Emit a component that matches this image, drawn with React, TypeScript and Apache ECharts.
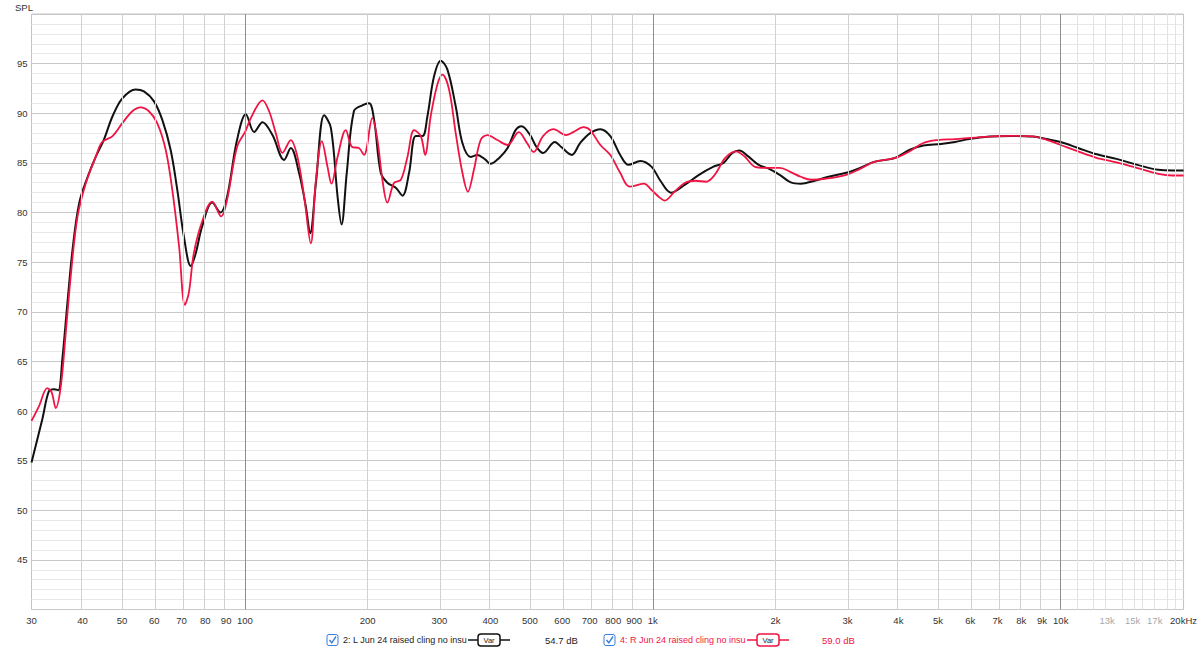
import React, { useEffect, useRef } from "react";
import * as echarts from "echarts";

// ---- data ----
const blackFreq = [30, 31.9, 33.1, 34.1, 34.9, 35.7, 36.8, 37.9, 39.3, 41.2, 43.1, 45.1, 47.4, 50.1, 54.0, 56.6, 59.9, 62.8, 65.8, 68.3, 70.9, 73.7, 75.7, 78.6, 83.2, 87.2, 90.5, 95.7, 100.6, 105.4, 110.5, 116.9, 124.8, 129.6, 135.8, 141.1, 144.6, 149.4, 156.5, 162.6, 168.8, 172.6, 177.8, 185.1, 194.1, 201.7, 207.5, 215.4, 223.6, 234.4, 243.5, 252.7, 262.4, 272.6, 280.3, 290.9, 302.2, 313.8, 328.8, 341.5, 357.7, 371.4, 389.3, 400, 420.3, 440.7, 461, 476.8, 500.6, 518.8, 538.3, 575.6, 596.6, 633, 663.6, 702.3, 744, 787, 832, 872, 933, 994, 1044, 1108, 1200, 1298, 1405, 1491, 1567, 1630, 1714, 1818, 1929, 2047, 2173, 2306, 2494, 2697, 2979, 3223, 3489, 3930, 4254, 4605, 5087, 5507, 5960, 6715, 7567, 8526, 9232, 9995, 11031, 12175, 13700, 15420, 17350, 18800, 20000];
const blackSPL = [54.8, 59.2, 62.0, 62.2, 62.1, 65.2, 71.2, 76.6, 81.0, 83.6, 85.6, 87.3, 89.7, 91.5, 92.4, 92.2, 91.2, 89.3, 86.3, 82.3, 77.6, 74.6, 75.8, 78.6, 81.0, 80.0, 81.6, 87.3, 89.9, 88.1, 89.1, 87.8, 85.3, 86.5, 84.0, 80.6, 77.9, 83.0, 89.8, 88.5, 81.6, 78.8, 84.0, 90.2, 90.8, 91.0, 89.3, 84.0, 83.0, 82.5, 81.7, 84.0, 87.7, 87.7, 89.7, 93.7, 95.3, 94.4, 90.7, 87.0, 85.6, 85.8, 85.3, 84.9, 85.5, 86.5, 88.3, 88.7, 87.8, 86.6, 86.0, 87.1, 86.6, 85.8, 87.0, 88.0, 88.4, 87.7, 85.8, 84.8, 85.2, 84.6, 83.2, 82.0, 82.8, 83.8, 84.6, 85.0, 86.0, 86.25, 85.65, 84.8, 84.4, 83.8, 83.06, 82.9, 83.2, 83.6, 84.0, 84.5, 85.1, 85.5, 86.3, 86.75, 86.9, 87.1, 87.4, 87.65, 87.72, 87.65, 87.4, 87.1, 86.5, 85.9, 85.4, 84.8, 84.3, 84.24, 84.24];

const redFreq = [30, 31.3, 32.8, 33.6, 34.4, 35.4, 36.4, 37.5, 38.9, 40.8, 43.1, 44.7, 47.4, 50.1, 53.0, 55.5, 58.2, 61.0, 64.0, 66.4, 69.0, 71.3, 72.9, 75.0, 78.6, 83.2, 87.5, 90.5, 95.7, 100.4, 103.4, 110.5, 114.7, 119.1, 123.7, 129.6, 134.6, 139.8, 145.1, 149.4, 154.5, 159.5, 163.1, 168.8, 176.8, 183.3, 190.4, 195.9, 205.4, 211.4, 217.4, 223.6, 232.2, 241.3, 250.4, 260, 270, 276.6, 285.5, 296.5, 305, 316.7, 328.8, 341.5, 352.2, 364.4, 378.5, 393.2, 416, 440.7, 469.4, 491.7, 510.4, 538.3, 570.3, 613.2, 638.2, 676, 702, 744, 787, 832, 878, 950, 997, 1040, 1070, 1131, 1200, 1273, 1351, 1419, 1506, 1598, 1679, 1782, 1891, 2047, 2173, 2306, 2446, 2645, 2979, 3223, 3489, 3930, 4254, 4605, 4990, 5507, 6200, 7567, 8526, 9232, 9995, 11031, 12175, 13700, 15420, 17350, 18800, 20000];
const redSPL = [59.0, 60.5, 62.3, 61.9, 60.3, 62.5, 67.9, 73.9, 79.6, 83.0, 85.6, 87.1, 87.7, 89.0, 90.2, 90.6, 90.2, 89.0, 86.3, 82.3, 76.6, 70.7, 71.9, 75.9, 79.1, 81.1, 79.6, 81.3, 86.6, 88.2, 89.5, 91.3, 90.2, 88.0, 86.0, 87.3, 85.6, 81.6, 76.9, 83.3, 87.2, 84.6, 82.9, 85.6, 88.3, 86.6, 86.5, 85.8, 89.5, 87.3, 83.3, 81.0, 83.0, 83.3, 85.6, 88.3, 87.7, 85.8, 89.7, 92.9, 93.9, 92.4, 88.0, 84.0, 82.1, 84.3, 87.3, 87.8, 87.3, 86.8, 88.1, 87.0, 86.1, 87.7, 88.4, 87.8, 88.1, 88.6, 88.3, 86.8, 85.8, 84.0, 82.6, 82.9, 82.2, 81.5, 81.2, 82.1, 83.0, 83.2, 83.1, 83.8, 85.5, 86.15, 85.65, 84.6, 84.5, 84.5, 84.1, 83.6, 83.3, 83.4, 83.8, 84.4, 85.1, 85.5, 86.15, 87.0, 87.3, 87.4, 87.55, 87.72, 87.66, 87.32, 86.8, 86.15, 85.54, 85.04, 84.47, 83.9, 83.73, 83.73];

const xLabelFreqs = [30, 40, 50, 60, 70, 80, 90, 100, 200, 300, 400, 500, 600, 700, 800, 900, 1000, 2000, 3000, 4000, 5000, 6000, 7000, 8000, 9000, 10000, 13000, 15000, 17000, 20000];
const xLabelTexts = ["30", "40", "50", "60", "70", "80", "90", "100", "200", "300", "400", "500", "600", "700", "800", "900", "1k", "2k", "3k", "4k", "5k", "6k", "7k", "8k", "9k", "10k", "13k", "15k", "17k", "20kHz"];
const fadedLabels = ["13k", "15k", "17k"];

const gridFreqs = [40, 50, 60, 70, 80, 90, 100, 200, 300, 400, 500, 600, 700, 800, 900, 1000, 2000, 3000, 4000, 5000, 6000, 7000, 8000, 9000, 10000, 11000, 12000, 13000, 14000, 15000, 16000, 17000, 18000, 19000];
const decadeFreqs = [100, 1000, 10000];

const yMin = 40;
const yMax = 100;
const yStep = 5;

const seriesNames = ["2: L Jun 24 raised cling no insu", "4: R Jun 24 raised cling no insu"];
const seriesLevels = ["54.7 dB", "59.0 dB"];

const BLACK = "#111111";
const RED = "#ef1443";
const FONT = "Liberation Sans, Arial, sans-serif";

function legendItem(x0: number, textX: number, lineX: number, levelX: number, color: string, textColor: string, name: string, level: string) {
  const cy = 640;
  return [
    { type: "rect", shape: { x: x0, y: cy - 5.5, width: 11, height: 11, r: 2 }, style: { fill: "#fff", stroke: "#3b7ed6", lineWidth: 1 } },
    { type: "polyline", shape: { points: [[x0 + 2.5, cy], [x0 + 4.8, cy + 2.8], [x0 + 9, cy - 3.5]] }, style: { fill: "none", stroke: "#3b7ed6", lineWidth: 1.4 } },
    { type: "text", x: textX, y: cy, style: { text: name, fill: textColor, font: `9px ${FONT}`, textVerticalAlign: "middle", verticalAlign: "middle" } },
    { type: "line", shape: { x1: lineX, y1: cy, x2: lineX + 42, y2: cy }, style: { stroke: color, lineWidth: 1.5 } },
    { type: "rect", shape: { x: lineX + 10, y: cy - 6, width: 22, height: 12, r: 3 }, style: { fill: "#fff", stroke: color, lineWidth: 1.5 } },
    { type: "text", x: lineX + 21, y: cy, style: { text: "Var", fill: "#222", font: `7.5px ${FONT}`, align: "center", textAlign: "center", verticalAlign: "middle", textVerticalAlign: "middle" } },
    { type: "text", x: levelX, y: cy, style: { text: level, fill: textColor, font: `9.5px ${FONT}`, verticalAlign: "middle", textVerticalAlign: "middle" } },
  ];
}

export default function App() {
  const ref = useRef<HTMLDivElement>(null);
  useEffect(() => {
    if (!ref.current) return;
    const chart = echarts.init(ref.current, undefined, { renderer: "svg" });
    const lg = (f: number) => Math.log10(f);
    const gridLines = gridFreqs.map((f) => ({
      xAxis: lg(f),
      lineStyle: {
        color: decadeFreqs.includes(f) ? "#8e8e8e" : f > 10000 ? "#e3e3e3" : "#d0d0d0",
        width: 1,
        type: "solid",
      },
    }));
    const option: any = {
      animation: false,
      backgroundColor: "#ffffff",
      textStyle: { fontFamily: FONT },
      grid: { left: 31.5, right: 15.5, top: 14, bottom: 39.5, show: true, borderColor: "#c4c4c4", borderWidth: 1, backgroundColor: "transparent" },
      xAxis: {
        type: "value",
        min: lg(30),
        max: lg(20000),
        splitLine: { show: false },
        axisTick: { show: false },
        axisLine: { show: false },
        axisLabel: {
          customValues: xLabelFreqs.map(lg),
          margin: 6,
          fontSize: 9.5,
          fontFamily: FONT,
          color: "#333",
          formatter: (v: number) => {
            const i = xLabelFreqs.findIndex((f) => Math.abs(lg(f) - v) < 1e-6);
            if (i < 0) return "";
            const t = xLabelTexts[i];
            return fadedLabels.includes(t) ? `{f|${t}}` : t;
          },
          rich: { f: { color: "#a8a8a8", fontSize: 9.5, fontFamily: FONT } },
        },
      },
      yAxis: {
        type: "value",
        min: yMin,
        max: yMax,
        interval: yStep,
        axisLine: { show: false },
        axisTick: { show: false },
        axisLabel: {
          margin: 4,
          fontSize: 9.5,
          fontFamily: FONT,
          color: "#333",
          formatter: (v: number) => (v > yMin && v < yMax ? String(v) : ""),
        },
        splitLine: { show: true, lineStyle: { color: "#c8c8c8", width: 1 } },
        minorTick: { show: false, splitNumber: 5 },
        minorSplitLine: { show: true, lineStyle: { color: "#e8e8e8", width: 1 } },
      },
      graphic: [
        { type: "text", x: 15, y: 2, style: { text: "SPL", fill: "#333", font: `9.5px ${FONT}` } },
        ...legendItem(327, 343, 468, 545, BLACK, "#222", seriesNames[0], seriesLevels[0]),
        ...legendItem(604, 620, 747, 822, RED, RED, seriesNames[1], seriesLevels[1]),
      ],
      series: [
        {
          type: "line",
          data: [],
          z: 1,
          silent: true,
          markLine: { silent: true, symbol: ["none", "none"], label: { show: false }, animation: false, data: gridLines },
        },
        {
          name: seriesNames[0],
          type: "line",
          z: 3,
          data: blackFreq.map((f, i) => [lg(f), blackSPL[i]]),
          showSymbol: false,
          smooth: 0.35,
          lineStyle: { color: BLACK, width: 2 },
          itemStyle: { color: BLACK },
        },
        {
          name: seriesNames[1],
          type: "line",
          z: 4,
          data: redFreq.map((f, i) => [lg(f), redSPL[i]]),
          showSymbol: false,
          smooth: 0.35,
          lineStyle: { color: RED, width: 1.8 },
          itemStyle: { color: RED },
        },
      ],
    };
    chart.setOption(option);
    return () => chart.dispose();
  }, []);
  return <div ref={ref} style={{ position: "fixed", left: 0, top: 0, width: 1200, height: 649, background: "#fff" }} />;
}
